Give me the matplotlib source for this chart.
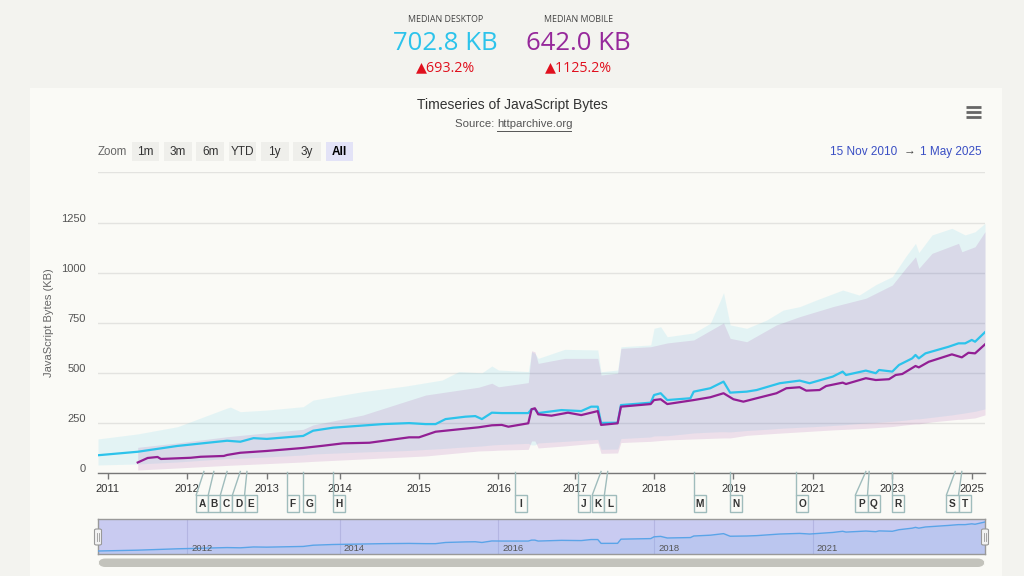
import datetime as dt
import numpy as np
import matplotlib
matplotlib.use("Agg")
import matplotlib.pyplot as plt
from matplotlib.patches import Rectangle, FancyBboxPatch
from matplotlib.lines import Line2D
from matplotlib.transforms import ScaledTranslation

# ------------------------------------------------------------------ data
desk_dates = ["2010-11-15", "2011-05-15", "2011-11-15", "2012-07-01", "2012-09-01", "2012-11-01",
              "2013-01-01", "2013-07-01", "2013-08-15", "2013-12-01", "2014-07-15", "2014-11-15",
              "2015-02-01", "2015-03-15", "2015-05-01", "2015-08-01", "2015-09-15", "2015-10-15",
              "2015-12-01", "2016-01-15", "2016-06-01", "2016-06-15", "2016-07-01", "2016-07-15",
              "2016-11-01", "2017-02-01", "2017-03-15", "2017-04-15", "2017-05-01", "2017-07-15",
              "2017-08-01", "2017-12-15", "2018-01-01", "2018-02-01", "2018-03-01", "2018-06-15",
              "2018-07-01", "2018-09-15", "2018-11-15", "2018-12-15", "2019-05-01", "2019-08-01",
              "2020-03-01", "2020-09-01", "2020-12-01", "2021-07-01", "2021-10-01", "2021-11-01",
              "2022-05-01", "2022-08-01", "2022-09-01", "2023-01-01", "2023-03-01", "2023-07-01",
              "2023-08-01", "2023-09-01", "2023-11-01", "2024-06-01", "2024-09-01", "2024-11-01",
              "2025-01-01", "2025-02-01", "2025-05-01"]
desk_median = [88.6, 106, 135, 161, 156, 174,
               170, 185, 211, 226, 244, 249,
               244, 244, 269, 281, 284, 269,
               301, 299, 299, 319, 319, 299,
               314, 309, 331, 331, 250, 251,
               339, 351, 389, 398, 364, 373,
               406, 423, 456, 401, 406, 414,
               448, 461, 448, 481, 506, 489,
               511, 498, 514, 506, 539, 572,
               589, 572, 597, 630, 647, 647,
               664, 655, 702.8]

mob_dates = ["2011-05-15", "2011-07-01", "2011-08-15", "2011-09-01", "2012-01-15", "2012-03-01",
             "2012-06-15", "2012-07-01", "2012-09-01", "2013-01-01", "2013-07-01", "2013-10-01",
             "2014-01-15", "2014-05-15", "2014-11-15", "2015-01-01", "2015-03-15", "2015-07-01",
             "2015-10-01", "2015-12-01", "2016-01-15", "2016-03-01", "2016-06-01", "2016-06-15",
             "2016-07-01", "2016-07-15", "2016-09-15", "2016-12-01", "2017-02-01", "2017-04-15",
             "2017-05-01", "2017-07-15", "2017-08-01", "2017-12-15", "2018-01-01", "2018-02-01",
             "2018-03-01", "2018-07-01", "2018-09-15", "2018-11-15", "2019-01-01", "2019-04-01",
             "2019-08-01", "2020-02-01", "2020-05-01", "2020-09-01", "2020-11-01", "2021-03-01",
             "2021-05-01", "2021-10-01", "2021-11-01", "2022-05-01", "2022-08-01", "2022-12-01",
             "2023-02-01", "2023-04-01", "2023-08-01", "2023-09-01", "2023-12-01", "2024-07-01",
             "2024-10-01", "2024-12-01", "2025-02-01", "2025-05-01"]
mob_median = [52.4, 75, 80, 70, 76, 81,
              85, 90, 101, 110, 125, 136,
              148, 151, 178, 178, 206, 218,
              228, 238, 240, 231, 248, 318,
              323, 293, 286, 301, 289, 309,
              240, 248, 331, 344, 364, 368,
              344, 364, 378, 398, 368, 356,
              373, 398, 423, 428, 411, 414,
              434, 451, 444, 473, 464, 468,
              489, 494, 534, 527, 555, 592,
              577, 600, 597, 642.0]

desk_band_dates = ["2010-11-15", "2011-05-15", "2011-11-15", "2012-07-01", "2012-07-15", "2012-09-01",
                   "2013-01-01", "2013-07-01", "2013-08-15", "2014-04-15", "2014-11-01", "2015-04-15",
                   "2015-07-01", "2015-10-15", "2015-12-01", "2016-01-01", "2016-06-01", "2016-06-15",
                   "2016-07-01", "2016-07-15", "2016-11-15", "2017-04-15", "2017-05-01", "2017-07-15",
                   "2017-08-01", "2017-12-15", "2018-01-01", "2018-02-01", "2018-03-01", "2018-07-01",
                   "2018-09-15", "2018-11-01", "2018-11-15", "2018-12-15", "2019-05-01", "2019-11-01",
                   "2020-04-01", "2020-09-01", "2021-02-01", "2021-10-01", "2022-03-01", "2022-08-01",
                   "2023-01-01", "2023-05-01", "2023-08-01", "2023-09-01", "2024-01-01", "2024-07-01",
                   "2024-11-01", "2025-02-01", "2025-05-01"]
desk_low = [40, 45, 55, 72, 72, 74,
            80, 90, 95, 105, 112, 122,
            128, 135, 140, 142, 148, 140,
            140, 150, 158, 168, 118, 120,
            172, 180, 185, 186, 186, 200,
            204, 206, 206, 205, 212, 218,
            224, 228, 232, 240, 247, 252,
            258, 264, 270, 270, 278, 290,
            300, 308, 320]
desk_high = [170, 195, 231, 324, 329, 306,
             314, 331, 364, 406, 434, 464,
             506, 500, 534, 514, 506, 605,
             597, 572, 617, 614, 505, 514,
             630, 639, 722, 730, 680, 699,
             747, 860, 900, 739, 722, 763,
             813, 830, 863, 913, 888, 940,
             980, 1079, 1146, 1100, 1188, 1221,
             1188, 1204, 1246]

mob_band_dates = ["2011-05-15", "2011-11-15", "2012-07-01", "2013-07-01", "2013-08-15", "2014-04-15",
                  "2015-02-01", "2015-10-01", "2015-12-01", "2016-01-01", "2016-06-01", "2016-06-15",
                  "2016-07-01", "2016-07-15", "2016-11-15", "2017-04-15", "2017-05-01", "2017-07-15",
                  "2017-08-01", "2017-12-15", "2018-03-01", "2018-07-01", "2018-11-15", "2018-12-15",
                  "2019-05-01", "2020-02-01", "2020-09-01", "2021-07-01", "2022-05-01", "2023-01-01",
                  "2023-05-01", "2023-08-01", "2023-09-01", "2024-01-01", "2024-09-01", "2024-10-01",
                  "2025-02-01", "2025-05-01"]
mob_low = [15, 25, 38, 55, 58, 70,
           85, 110, 112, 114, 118, 160,
           160, 125, 135, 150, 98, 100,
           152, 158, 165, 170, 175, 175,
           188, 198, 205, 215, 223, 232,
           240, 245, 245, 255, 268, 268,
           275, 290]
mob_high = [128, 150, 181, 218, 240, 289,
            389, 428, 448, 430, 451, 610,
            605, 547, 572, 572, 489, 498,
            622, 630, 649, 664, 749, 672,
            655, 739, 780, 830, 872, 938,
            1021, 1079, 1021, 1096, 1146, 1104,
            1129, 1204]

flag_dates = ["2012-03-15", "2012-05-01", "2012-07-01", "2012-09-01", "2012-10-01", "2013-04-01",
              "2013-07-01", "2013-12-01", "2016-04-01", "2017-01-15", "2017-05-01", "2017-06-01",
              "2018-07-01", "2018-12-15", "2020-08-01", "2022-05-01", "2022-06-01", "2023-01-01",
              "2024-08-01", "2024-10-01"]
flag_labels = list("ABCDEFGHIJKLMNOPQRST")

year_ticks = [2011, 2012, 2013, 2014, 2015, 2016, 2017, 2018, 2019, 2021, 2023, 2025]
nav_years = [2012, 2014, 2016, 2018, 2021]
y_ticks = [0, 250, 500, 750, 1000, 1250, 1500]

# ------------------------------------------------------------------ ordinal crawl axis
def crawl_dates():
    out = [dt.date(2010, 11, 15), dt.date(2010, 12, 1), dt.date(2010, 12, 15)]
    missing = {dt.date(2013, 5, 15), dt.date(2013, 10, 15), dt.date(2016, 2, 15)}
    for y in range(2011, 2019):
        for m in range(1, 13):
            for d in (1, 15):
                dd = dt.date(y, m, d)
                if dd not in missing:
                    out.append(dd)
    for y in range(2019, 2026):
        for m in range(1, 13):
            dd = dt.date(y, m, 1)
            if dd > dt.date(2025, 5, 1):
                break
            out.append(dd)
    return out

CRAWLS = crawl_dates()
POS = {d: i for i, d in enumerate(CRAWLS)}

def ordx(dates):
    return np.array([POS[dt.date.fromisoformat(s)] for s in dates], dtype=float)

def year_pos(y):
    return POS[dt.date(y, 1, 1)]

# ------------------------------------------------------------------ figure
W, H = 1024, 576
BG = "#f3f3ef"
PANEL = "#fafaf6"
CYAN = "#2cc3eb"
PURPLE = "#921f94"
FONT = ["Liberation Sans", "DejaVu Sans"]
plt.rcParams["font.family"] = FONT

fig = plt.figure(figsize=(W / 100, H / 100), dpi=100, facecolor=BG)

def fx(x):
    return x / W

def fy(y):
    return 1 - y / H

fig.add_artist(Rectangle((fx(30), fy(576)), fx(1002) - fx(30), fy(88) - fy(576),
                         transform=fig.transFigure, fc=PANEL, ec="none", zorder=0))

# header KPIs
HF = ["Open Sans", "DejaVu Sans"]
fig.text(fx(445.5), fy(20), "MEDIAN DESKTOP", ha="center", va="center", fontsize=6.4, color="#444", family=HF)
fig.text(fx(445.5), fy(43), "702.8 KB", ha="center", va="center", fontsize=18.5, color=CYAN, family=HF)
fig.text(fx(445.5), fy(68), "▲693.2%", ha="center", va="center", fontsize=10.3, color="#e0101e", family=HF)
fig.text(fx(578.5), fy(20), "MEDIAN MOBILE", ha="center", va="center", fontsize=6.4, color="#444", family=HF)
fig.text(fx(578.5), fy(43), "642.0 KB", ha="center", va="center", fontsize=18.5, color="#96289b", family=HF)
fig.text(fx(578.5), fy(68), "▲1125.2%", ha="center", va="center", fontsize=10.3, color="#e0101e", family=HF)

# title / subtitle
fig.text(fx(512), fy(105), "Timeseries of JavaScript Bytes", ha="center", va="center", fontsize=10, color="#333")
fig.text(fx(455), fy(124), "Source: ", ha="left", va="center", fontsize=8.2, color="#555")
fig.text(fx(497), fy(124), "httparchive.org", ha="left", va="center", fontsize=8.2, color="#555")
fig.add_artist(Line2D([fx(497), fx(571)], [fy(130.5), fy(130.5)], transform=fig.transFigure, color="#555", lw=0.7))

# hamburger
for yy in (107, 112, 117):
    fig.add_artist(Line2D([fx(966), fx(981)], [fy(yy), fy(yy)], transform=fig.transFigure,
                          color="#666", lw=2.0, solid_capstyle="butt"))

# range selector
fig.text(fx(112.5), fy(152), "Zoom", ha="center", va="center", fontsize=8.3, color="#666")
buttons = ["1m", "3m", "6m", "YTD", "1y", "3y", "All"]
for i, b in enumerate(buttons):
    left = 131.7 + i * 32.3
    sel = b == "All"
    fig.add_artist(Rectangle((fx(left), fy(161)), fx(27.7), fy(142.3) - fy(161), transform=fig.transFigure,
                             fc="#e3e3f7" if sel else "#efefeb", ec="none"))
    fig.text(fx(left + 13.85), fy(152), b, ha="center", va="center", fontsize=8.5,
             color="#000" if sel else "#333", fontweight="bold" if sel else "normal")

fig.text(fx(897), fy(152), "15 Nov 2010", ha="right", va="center", fontsize=8.5, color="#3a4fc4")
fig.text(fx(910), fy(150.5), "→", ha="center", va="center", fontsize=8.5, color="#444")
fig.text(fx(982), fy(152), "1 May 2025", ha="right", va="center", fontsize=8.5, color="#3a4fc4")

# ------------------------------------------------------------------ main plot
PL, PR, PT, PB = 98, 985, 172.4, 473
ax = fig.add_axes([fx(PL), fy(PB), fx(PR) - fx(PL), fy(PT) - fy(PB)])
ax.set_facecolor("none")
ax.set_xlim(0, len(CRAWLS) - 1)
ax.set_ylim(0, 1500)

xd = ordx(desk_band_dates)
ax.fill_between(xd, desk_low, desk_high, color=CYAN, alpha=0.11, lw=0, zorder=2)
xm = ordx(mob_band_dates)
ax.fill_between(xm, mob_low, mob_high, color=PURPLE, alpha=0.12, lw=0, zorder=3)
ax.plot(ordx(desk_dates), desk_median, color=CYAN, lw=1.6, zorder=5, solid_joinstyle="round")
ax.plot(ordx(mob_dates), mob_median, color=PURPLE, lw=1.6, zorder=6, solid_joinstyle="round")

ax.set_yticks(y_ticks)
ax.set_yticklabels([str(v) if v < 1500 else "" for v in y_ticks])
ax.grid(axis="y", color="#e3e3e0", lw=1)
ax.set_axisbelow(True)
ax.tick_params(axis="y", length=0, pad=9, labelsize=8, labelcolor="#555")
off = ScaledTranslation(0, 5 / 100, fig.dpi_scale_trans)
for lab in ax.get_yticklabels():
    lab.set_transform(lab.get_transform() + off)

ax.set_xticks([year_pos(y) for y in year_ticks])
ax.set_xticklabels([str(y) for y in year_ticks])
ax.tick_params(axis="x", length=4.3, width=1, color="#777", pad=3.5, labelsize=8, labelcolor="#333")
for s in ("top", "right", "left"):
    ax.spines[s].set_visible(False)
ax.spines["bottom"].set_color("#777")
ax.spines["bottom"].set_linewidth(1)
ax.spines["bottom"].set_zorder(7)

fig.text(fx(49), fy(322.5), "JavaScript Bytes (KB)", rotation=90, ha="center", va="center",
         fontsize=8, color="#666")

# ------------------------------------------------------------------ flags
FW, FTOP, FBOT = 12.1, 495, 512
fpx = [ax.transData.transform((p, 0))[0] for p in ordx(flag_dates)]
clusters = [[i] for i in range(len(fpx))]

def extent(c):
    if len(c) == 1:
        return fpx[c[0]], fpx[c[0]] + FW
    m = np.mean([fpx[i] for i in c])
    return m - len(c) * FW / 2, m + len(c) * FW / 2

changed = True
while changed:
    changed = False
    for k in range(len(clusters) - 1):
        if extent(clusters[k])[1] > extent(clusters[k + 1])[0]:
            clusters[k] = clusters[k] + clusters.pop(k + 1)
            changed = True
            break

FC = "#9fbcbc"
for c in clusters:
    left0 = extent(c)[0]
    for j, i in enumerate(c):
        bl = left0 + j * FW
        fig.add_artist(Line2D([fx(fpx[i]), fx(bl)], [fy(471.5), fy(FTOP)], transform=fig.transFigure,
                              color=FC, lw=1, zorder=8))
        fig.add_artist(Rectangle((fx(bl), fy(FBOT)), fx(FW), fy(FTOP) - fy(FBOT), transform=fig.transFigure,
                                 fc=PANEL, ec=FC, lw=1, zorder=9))
        fig.text(fx(bl + FW / 2), fy((FTOP + FBOT) / 2 + 0.5), flag_labels[i], ha="center", va="center",
                 fontsize=7.3, fontweight="bold", color="#333", zorder=10)

# ------------------------------------------------------------------ navigator
NT, NB = 519, 554
nav = fig.add_axes([fx(PL), fy(NB), fx(PR) - fx(PL), fy(NT) - fy(NB)])
nav.set_facecolor("#c9cbf1")
nav.set_xlim(0, len(CRAWLS) - 1)
nav.set_ylim(25, 766)
lab_off = ScaledTranslation(4 / 100, 0, fig.dpi_scale_trans)
for y in nav_years:
    nav.axvline(year_pos(y), color="#b4b5e2", lw=0.8, zorder=1)
    nav.text(year_pos(y), 0.17, str(y), transform=nav.get_xaxis_transform() + lab_off, ha="left",
             va="center", fontsize=6.8, color="#555", zorder=4)
nx = ordx(desk_dates)
nav.fill_between(nx, 25, desk_median, color="#7db4ea", alpha=0.18, lw=0, zorder=2)
nav.plot(nx, desk_median, color="#5aa4e8", lw=1, zorder=3)
nav.set_xticks([])
nav.set_yticks([])
for s in nav.spines.values():
    s.set_color("#999")
    s.set_linewidth(1)

for hx in (PL, PR):
    fig.add_artist(FancyBboxPatch((fx(hx - 3.5), fy(545)), fx(7), fy(529) - fy(545),
                                  boxstyle="round,pad=0,rounding_size=0.002", transform=fig.transFigure,
                                  fc="#f2f2f2", ec="#999", lw=0.8, zorder=10))
    for dx in (-1.2, 1.2):
        fig.add_artist(Line2D([fx(hx + dx), fx(hx + dx)], [fy(533), fy(541)], transform=fig.transFigure,
                              color="#999", lw=0.6, zorder=11))

# scrollbar
fig.add_artist(FancyBboxPatch((fx(PL), fy(567)), fx(PR) - fx(PL), fy(558.5) - fy(567),
                              boxstyle="round,pad=0,rounding_size=0.007", transform=fig.transFigure,
                              fc="#c3c3bc", ec="none", zorder=5, mutation_aspect=W / H))

fig.savefig("out.png", dpi=100, facecolor=BG)
